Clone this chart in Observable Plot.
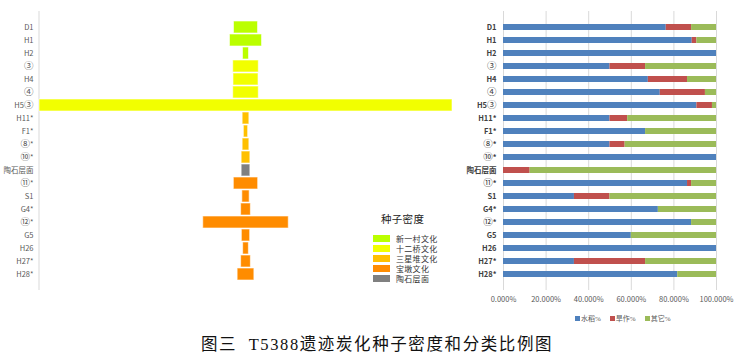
<!DOCTYPE html>
<html><head><meta charset="utf-8">
<script src="https://cdn.jsdelivr.net/npm/d3@7"></script>
<script src="https://cdn.jsdelivr.net/npm/@observablehq/plot@0.6"></script>
<style>
body{margin:0;background:#fff;}
#wrap{position:relative;width:735px;height:360px;overflow:hidden;background:#fff;font-family:"Noto Sans CJK SC",sans-serif;}
#left{position:absolute;left:0;top:0;}
#right{position:absolute;left:460px;top:0;}
#legL{position:absolute;left:373px;top:211px;font-family:"Liberation Serif","Noto Sans CJK SC",serif;color:#222;}
#legL .t{font-size:10.5px;margin-left:8px;height:22px;line-height:18px;letter-spacing:0.3px;}
#legL .r{display:flex;align-items:center;height:10px;font-size:8px;color:#333;letter-spacing:0.3px;}
#legL .s{width:17px;height:7px;margin-right:6px;}
#legR{position:absolute;left:575px;top:313px;display:flex;align-items:center;font-family:"Liberation Serif","Noto Sans CJK SC",serif;font-size:7px;color:#595959;}
#legR .s{width:5px;height:5px;margin-right:1px;}
#legR .i{display:flex;align-items:center;margin-right:9px;}
#title{position:absolute;left:201px;top:331px;white-space:nowrap;font-family:"Liberation Serif","Noto Sans CJK SC",serif;font-size:16.5px;letter-spacing:1.6px;color:#111;}
.circ{font-size:9.5px;font-weight:normal;}
</style></head><body><div id="wrap"><div id="left"></div><div id="right"></div><div id="legL"></div><div id="legR"></div><div id="title">图三&nbsp;&nbsp;T5388遗迹炭化种子密度和分类比例图</div></div>
<script>
const categories = ["D1","H1","H2","③","H4","④","H5③","H11*","F1*","⑧*","⑩*","陶石层面","⑪*","S1","G4*","⑫*","G5","H26","H27*","H28*"];
const density = [24,32,6,25.5,25,25.5,412,6.7,4.3,6.7,8.7,8.7,24.3,7.3,9.7,85.3,8.3,5.7,9.7,16.7];
const culture = ["新一村文化","新一村文化","新一村文化","十二桥文化","十二桥文化","十二桥文化","十二桥文化","三星堆文化","三星堆文化","三星堆文化","三星堆文化","陶石层面","宝墩文化","宝墩文化","宝墩文化","宝墩文化","宝墩文化","宝墩文化","宝墩文化","宝墩文化"];
const cultureNames = ["新一村文化","十二桥文化","三星堆文化","宝墩文化","陶石层面"];
const cultureColors = ["#bbff00","#f2ff00","#ffc000","#ff8c00","#808080"];
const legendTitle = "种子密度";
const seriesNames = ["水稻%","旱作%","其它%"];
const seriesColors = ["#4f81bd","#c0504d","#9bbb59"];
const rice  = [76.4,88.6,100,50,68.0,73.6,90.8,50,66.7,50,100,0,86.4,33.3,72.7,88.3,60,100,33.3,81.8];
const dry   = [11.9,2.2,0,16.7,18.4,21.2,7.3,8.3,0,7.1,0,12.5,1.9,16.7,0,0,0,0,33.4,0];
const other = [11.7,9.2,0,33.3,13.6,5.2,1.9,41.7,33.3,42.9,0,87.5,11.7,50,27.3,11.7,40,0,33.3,18.2];
const xTicks = [0,0.2,0.4,0.6,0.8,1];

const font = "'Noto Sans CJK SC',sans-serif";

// Left: centered density bars
const leftData = categories.map((c,i)=>({cat:c, v:density[i], culture:culture[i]}));
const maxD = d3.max(density);
const left = Plot.plot({
  width: 460, height: 300, marginLeft: 39, marginRight: 8, marginTop: 11, marginBottom: 10,
  style: {fontFamily: font, background: "transparent"},
  x: {domain: [-maxD/2, maxD/2], axis: null},
  y: {domain: categories, padding: 0.07, label: null},
  color: {domain: cultureNames, range: cultureColors},
  marks: [
    Plot.ruleX([-maxD/2], {stroke: "#d9d9d9", dx: -0.5}),
    Plot.barX(leftData, {x1: d => -d.v/2, x2: d => d.v/2, y: "cat", fill: "culture", stroke: "#ffffff", strokeOpacity: 0.6, strokeWidth: 1}),
    Plot.axisY({tickSize: 0, tickPadding: 6, fontSize: 7.5, fill: "#595959", label: null})
  ]
});
document.getElementById("left").appendChild(left);

// Right: 100% stacked bars
const rightData = [];
categories.forEach((c,i) => {
  [rice, dry, other].forEach((arr,j) => rightData.push({cat: c, series: seriesNames[j], v: arr[i]/100}));
});
const right = Plot.plot({
  width: 275, height: 310, marginLeft: 43, marginRight: 19, marginTop: 11, marginBottom: 20,
  style: {fontFamily: font, background: "transparent"},
  x: {domain: [0,1], label: null},
  y: {domain: categories, padding: 0.55, label: null},
  color: {domain: seriesNames, range: seriesColors},
  marks: [
    Plot.gridX(xTicks, {stroke: "#d9d9d9", strokeOpacity: 1}),
    Plot.barX(rightData, Plot.stackX({x: "v", y: "cat", fill: "series", order: seriesNames})),
    Plot.axisX(xTicks, {tickSize: 0, tickPadding: 6, tickFormat: d3.format(".3%"), fontSize: 7.5, fill: "#595959", label: null}),
    Plot.axisY({tickSize: 0, tickPadding: 7, fontSize: 7.5, fontWeight: "bold", fill: "#404040", label: null})
  ]
});
document.getElementById("right").appendChild(right);

// Larger circled numerals in tick labels (styling only)
document.querySelectorAll("#wrap svg text").forEach(t => {
  const s = t.textContent;
  if (/[\u2460-\u2473]/.test(s)) {
    t.textContent = "";
    for (const part of s.split(/([\u2460-\u2473])/)) {
      if (!part) continue;
      const ts = document.createElementNS("http://www.w3.org/2000/svg", "tspan");
      if (/[\u2460-\u2473]/.test(part)) ts.setAttribute("class", "circ");
      ts.textContent = part;
      t.appendChild(ts);
    }
  }
});

// Legends
const legL = document.getElementById("legL");
legL.innerHTML = `<div class="t">${legendTitle}</div>` + cultureNames.map((n,i) =>
  `<div class="r"><div class="s" style="background:${cultureColors[i]}"></div>${n}</div>`).join("");
const legR = document.getElementById("legR");
legR.innerHTML = seriesNames.map((n,i) =>
  `<div class="i"><div class="s" style="background:${seriesColors[i]}"></div>${n}</div>`).join("");
</script>
</body></html>
